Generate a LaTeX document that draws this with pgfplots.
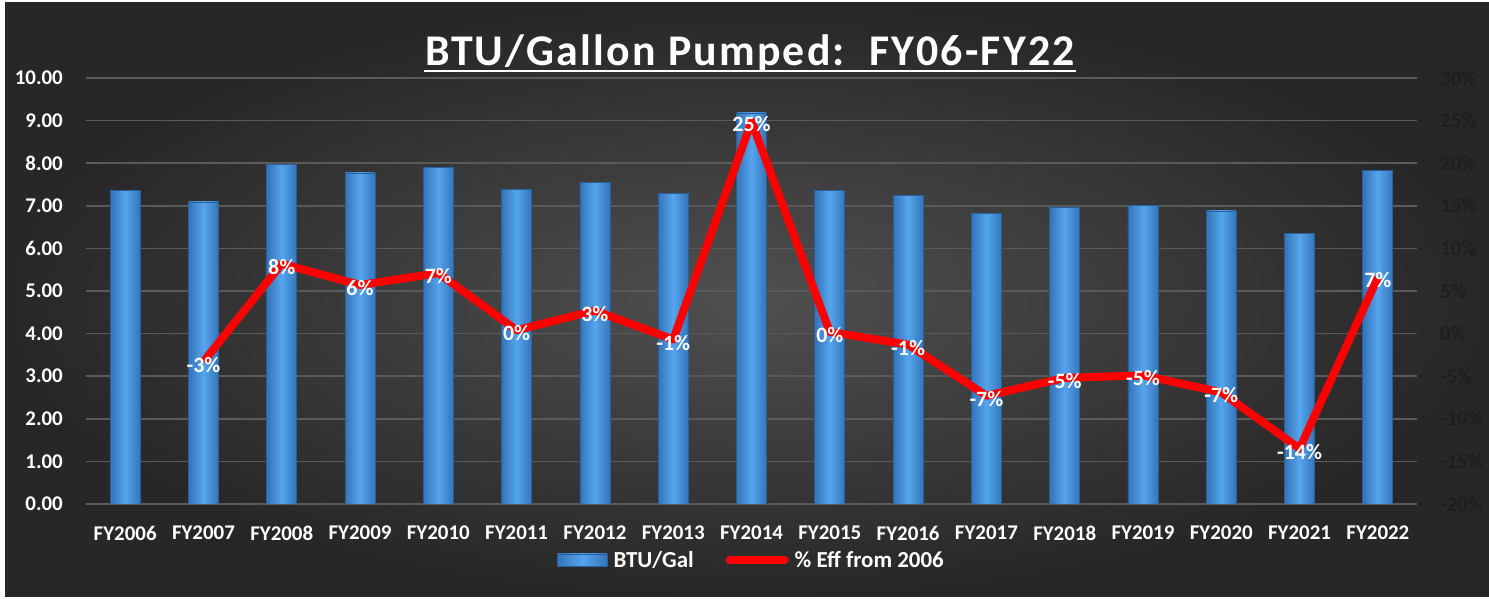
\documentclass[border=0pt]{standalone}
\usepackage{pgfplots}
\pgfplotsset{compat=1.18}
\usepackage{fontspec}
\setmainfont{Carlito}
\definecolor{bgin}{HTML}{505050}
\definecolor{bgout}{HTML}{272727}
\definecolor{gridc}{HTML}{5A5A5A}
\definecolor{barL}{HTML}{55A5EE}
\definecolor{barD}{HTML}{3474B8}
\definecolor{barE}{HTML}{2A5F9C}
\definecolor{rtick}{HTML}{1E1E1E}
\newcommand{\lf}{\bfseries\fontsize{21}{21}\selectfont}
\newcommand{\df}{\bfseries\fontsize{22}{22}\selectfont}
\newcommand{\gf}{\bfseries\fontsize{23}{23}\selectfont}
\newcommand{\rt}[1]{\textcolor{rtick}{#1}}
\pgfplotsset{onebar/.style={ybar, bar width=30bp, bar shift=0pt, draw=barE, line width=0.8bp,
  left color=barD, right color=barD, middle color=barL, forget plot}}
\begin{document}
\begin{tikzpicture}[x=1bp,y=1bp]
\fill[white] (0,0) rectangle (1489,599);
\shade[inner color=bgin, outer color=bgout] (5,2) rectangle (1489,596);
\node[white, inner sep=0, anchor=base] (t) at (750,533) {\bfseries\fontsize{44}{44}\selectfont\addfontfeature{LetterSpace=5}BTU/Gallon Pumped:\ \ FY06-FY22};
\draw[white, line width=2.5bp] (424,528) -- (1076,528);
\begin{axis}[
  at={(86bp,95bp)}, anchor=south west, scale only axis,
  width=1331bp, height=426bp,
  xmin=-0.5, xmax=16.5, ymin=0, ymax=10,
  axis line style={draw=none}, major tick length=0pt,
  ytick={0,1,...,10},
  yticklabels={0.00,1.00,2.00,3.00,4.00,5.00,6.00,7.00,8.00,9.00,10.00},
  xtick={0,1,...,16},
  xticklabels={FY2006,FY2007,FY2008,FY2009,FY2010,FY2011,FY2012,FY2013,FY2014,FY2015,FY2016,FY2017,FY2018,FY2019,FY2020,FY2021,FY2022},
  yticklabel style={text=white, font=\lf, anchor=east, inner sep=0pt, xshift=-23bp},
  xticklabel style={text=white, font=\lf, anchor=center, inner sep=0pt, yshift=-29bp},
  ymajorgrids, grid style={gridc, line width=1.5bp},
  legend style={at={(axis description cs:0.5,-0.131)}, anchor=center, draw=none, fill=none,
    text=white, font=\gf, legend columns=2,
    /tikz/every odd column/.append style={column sep=4bp},
    /tikz/every even column/.append style={column sep=30bp}},
]
\addplot[onebar] coordinates {(0,7.35)};
\addplot[onebar] coordinates {(1,7.09)};
\addplot[onebar] coordinates {(2,7.96)};
\addplot[onebar] coordinates {(3,7.77)};
\addplot[onebar] coordinates {(4,7.89)};
\addplot[onebar] coordinates {(5,7.39)};
\addplot[onebar] coordinates {(6,7.54)};
\addplot[onebar] coordinates {(7,7.30)};
\addplot[onebar] coordinates {(8,9.18)};
\addplot[onebar] coordinates {(9,7.37)};
\addplot[onebar] coordinates {(10,7.25)};
\addplot[onebar] coordinates {(11,6.81)};
\addplot[onebar] coordinates {(12,6.97)};
\addplot[onebar] coordinates {(13,7.00)};
\addplot[onebar] coordinates {(14,6.88)};
\addplot[onebar] coordinates {(15,6.36)};
\addplot[onebar] coordinates {(16,7.84)};
\addlegendimage{legend image code/.code={\shade[left color=barD,right color=barD,middle color=barL,draw=barE] (0bp,-6bp) rectangle (50bp,6bp);}}
\addlegendentry{BTU/Gal}
\addlegendimage{legend image code/.code={\draw[red, line width=8bp, line cap=round] (0bp,0bp) -- (55bp,0bp);}}
\addlegendentry{\% Eff from 2006}
\end{axis}
\begin{axis}[
  at={(86bp,95bp)}, anchor=south west, scale only axis,
  width=1331bp, height=426bp,
  xmin=-0.5, xmax=16.5, ymin=-20, ymax=30,
  axis line style={draw=none}, major tick length=0pt,
  axis x line=none, axis y line*=right,
  ytick={-20,-15,...,30},
  yticklabels={\rt{-20\%},\rt{-15\%},\rt{-10\%},\rt{-5\%},\rt{0\%},\rt{5\%},\rt{10\%},\rt{15\%},\rt{20\%},\rt{25\%},\rt{30\%}},
  yticklabel style={font=\lf, anchor=west, inner sep=0pt, xshift=23bp},
]
\addplot[red, line width=8bp, line join=round, mark=none,
  nodes near coords, point meta=explicit symbolic,
  nodes near coords style={text=white, font=\df, anchor=center, inner sep=0pt, yshift=-3bp}]
  table[meta=lab] {
x y lab
1 -3.3 -3\%
2 8.2 8\%
3 5.7 6\%
4 7.1 7\%
5 0.4 0\%
6 2.7 3\%
7 -0.7 -1\%
8 24.9 25\%
9 0.2 0\%
10 -1.3 -1\%
11 -7.3 -7\%
12 -5.2 -5\%
13 -4.9 -5\%
14 -6.9 -7\%
15 -13.5 -14\%
16 6.6 7\%
};
\end{axis}
\end{tikzpicture}
\end{document}
